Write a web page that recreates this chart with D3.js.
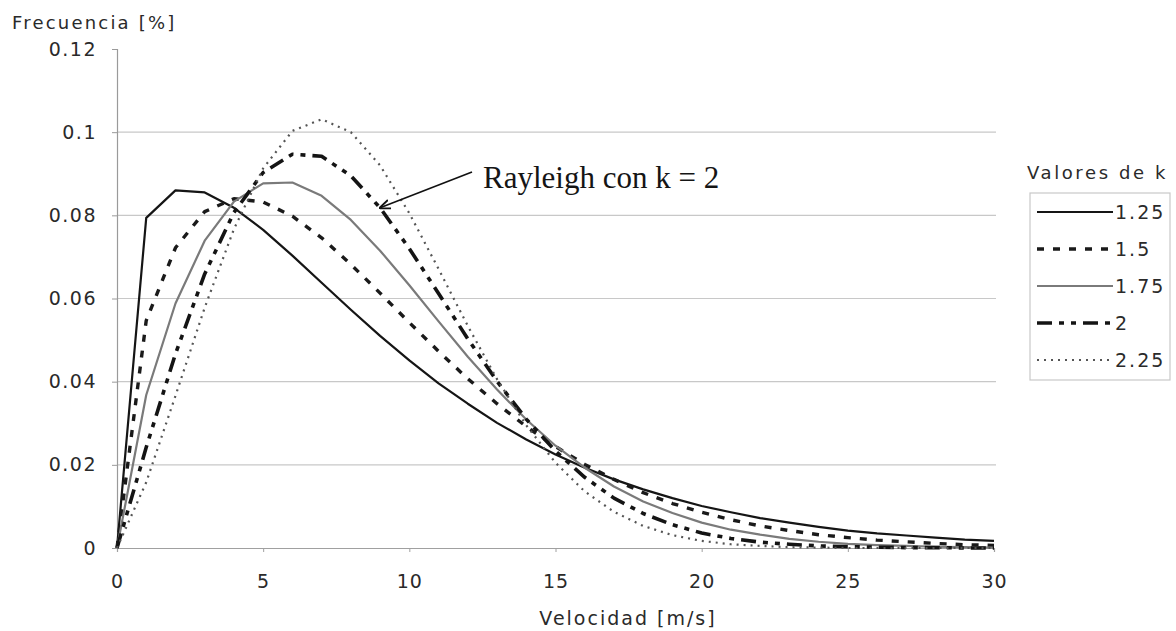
<!DOCTYPE html>
<html>
<head>
<meta charset="utf-8">
<script src="https://cdn.jsdelivr.net/npm/d3@7"></script>
<style>
  html, body { margin: 0; padding: 0; background: #fff; }
  svg { display: block; }
  .sans { font-family: "DejaVu Sans", Verdana, sans-serif; fill: #2a2a2a; }
</style>
</head>
<body>
<svg id="chart" width="1176" height="631"></svg>
<script>
// Velocity bins [m/s]
const velocity = d3.range(0, 31);

// Weibull frequency per shape factor k (mean speed 8 m/s)
const freqK125 = [0, 0.0794, 0.0860, 0.0855, 0.0818, 0.0765, 0.0703, 0.0638, 0.0573, 0.0510,
  0.0451, 0.0396, 0.0347, 0.0301, 0.0261, 0.0225, 0.0193, 0.0165, 0.0141, 0.0120,
  0.0101, 0.0086, 0.0072, 0.0061, 0.0051, 0.0042, 0.0035, 0.0030, 0.0025, 0.0020, 0.0017];
const freqK150 = [0, 0.0547, 0.0722, 0.0809, 0.0840, 0.0832, 0.0798, 0.0746, 0.0682, 0.0613,
  0.0542, 0.0473, 0.0407, 0.0347, 0.0292, 0.0244, 0.0201, 0.0165, 0.0133, 0.0107,
  0.0086, 0.0068, 0.0053, 0.0042, 0.0032, 0.0025, 0.0019, 0.0015, 0.0011, 0.0008, 0.0006];
const freqK175 = [0, 0.0368, 0.0588, 0.0739, 0.0833, 0.0877, 0.0879, 0.0847, 0.0789, 0.0715,
  0.0632, 0.0545, 0.0460, 0.0381, 0.0309, 0.0246, 0.0193, 0.0148, 0.0112, 0.0084,
  0.0061, 0.0044, 0.0032, 0.0022, 0.0015, 0.0010, 0.0007, 0.0005, 0.0003, 0.0002, 0.0001];
const freqK200 = [0, 0.0242, 0.0467, 0.0659, 0.0807, 0.0903, 0.0947, 0.0942, 0.0895, 0.0818,
  0.0720, 0.0612, 0.0503, 0.0401, 0.0310, 0.0233, 0.0170, 0.0120, 0.0083, 0.0056,
  0.0036, 0.0023, 0.0014, 0.0009, 0.0005, 0.0003, 0.0002, 0.0001, 0.0001, 0, 0];
const freqK225 = [0, 0.0158, 0.0366, 0.0578, 0.0767, 0.0913, 0.1003, 0.1031, 0.1000, 0.0920,
  0.0805, 0.0671, 0.0534, 0.0406, 0.0295, 0.0205, 0.0136, 0.0087, 0.0053, 0.0031,
  0.0017, 0.0009, 0.0005, 0.0002, 0.0001, 0, 0, 0, 0, 0, 0];

const kLabels = ["1.25", "1.5", "1.75", "2", "2.25"];
const yTicks = [0, 0.02, 0.04, 0.06, 0.08, 0.1, 0.12];
const yTickLabels = ["0", "0.02", "0.04", "0.06", "0.08", "0.1", "0.12"];
const xTicks = [0, 5, 10, 15, 20, 25, 30];

const yTitle = "Frecuencia [%]";
const xTitle = "Velocidad [m/s]";
const legendTitle = "Valores de k";
const noteText = "Rayleigh con k = 2";
const noteVelocity = 9;

const seriesValues = [freqK125, freqK150, freqK175, freqK200, freqK225];

// Stroke style for each k curve
const styles = [
  { stroke: "#151515", width: 2.2, dash: null },
  { stroke: "#1a1a1a", width: 3.4, dash: "7,9" },
  { stroke: "#7a7a7a", width: 2.2, dash: null },
  { stroke: "#141414", width: 3.6, dash: "15,7,5,7,5,7" },
  { stroke: "#555", width: 2.2, dash: "2,5" }
];

const svg = d3.select("#chart");
const x = d3.scaleLinear().domain([0, 30]).range([117, 994]);
const y = d3.scaleLinear().domain([0, 0.12]).range([548, 49]);

// Horizontal gridlines
svg.append("g")
  .selectAll("line")
  .data(yTicks.filter(t => t > 0 && t < 0.12))
  .join("line")
  .attr("x1", x(0)).attr("x2", x(30) + 2)
  .attr("y1", d => y(d)).attr("y2", d => y(d))
  .attr("stroke", "#c8c8c8").attr("stroke-width", 1.2);

// Y axis
const yAxis = d3.axisLeft(y).tickValues(yTicks)
  .tickFormat((d, i) => yTickLabels[i]).tickSize(5).tickPadding(15);
const gy = svg.append("g").attr("transform", `translate(${x(0)},0)`).call(yAxis);
gy.select(".domain").attr("stroke", "#9a9a9a").attr("stroke-width", 1.2);
gy.selectAll(".tick line").attr("stroke", "#9a9a9a");
gy.selectAll(".tick text")
  .attr("class", "sans").style("font-size", "19px").style("letter-spacing", "1.5px");

// X axis
const xAxis = d3.axisBottom(x).tickValues(xTicks).tickSize(4).tickPadding(23);
const gx = svg.append("g").attr("transform", `translate(0,${y(0)})`).call(xAxis);
gx.select(".domain").attr("stroke", "#a0a0a0").attr("stroke-width", 1.2);
gx.selectAll(".tick line").attr("stroke", "#a0a0a0");
gx.selectAll(".tick text")
  .attr("class", "sans").style("font-size", "19px").style("letter-spacing", "1px");

// Axis titles
svg.append("text").attr("class", "sans")
  .attr("x", 12).attr("y", 29)
  .style("font-size", "18px").style("letter-spacing", "2.2px")
  .text(yTitle);

svg.append("text").attr("class", "sans")
  .attr("x", 628).attr("y", 625).attr("text-anchor", "middle")
  .style("font-size", "19px").style("letter-spacing", "2px")
  .text(xTitle);

// Frequency curves
const line = d3.line()
  .x((d, i) => x(velocity[i]))
  .y(d => y(d));

svg.append("g")
  .selectAll("path")
  .data(seriesValues)
  .join("path")
  .attr("d", d => line(d))
  .attr("fill", "none")
  .attr("stroke", (d, i) => styles[i].stroke)
  .attr("stroke-width", (d, i) => styles[i].width)
  .attr("stroke-dasharray", (d, i) => styles[i].dash)
  .attr("stroke-linejoin", "round");

// Callout pointing at the Rayleigh curve
const tipX = x(noteVelocity), tipY = y(freqK200[noteVelocity]);
svg.append("defs").append("marker")
  .attr("id", "tip").attr("viewBox", "0 0 10 10")
  .attr("refX", 9).attr("refY", 5)
  .attr("markerWidth", 7).attr("markerHeight", 7)
  .attr("orient", "auto")
  .append("path").attr("d", "M0,1 L10,5 L0,9").attr("fill", "none")
  .attr("stroke", "#111").attr("stroke-width", 1.6);
svg.append("line")
  .attr("x1", 472).attr("y1", 172)
  .attr("x2", tipX).attr("y2", tipY)
  .attr("stroke", "#111").attr("stroke-width", 1.6)
  .attr("marker-end", "url(#tip)");
svg.append("text")
  .attr("x", 483).attr("y", 188)
  .style("font-family", "'Liberation Serif', 'Times New Roman', serif")
  .style("font-size", "31px").attr("fill", "#151515")
  .text(noteText);

// Legend
svg.append("text").attr("class", "sans")
  .attr("x", 1027).attr("y", 179)
  .style("font-size", "18px").style("letter-spacing", "2.6px")
  .text(legendTitle);

const legend = svg.append("g");
legend.append("rect")
  .attr("x", 1030).attr("y", 193).attr("width", 140).attr("height", 187)
  .attr("fill", "#fff").attr("stroke", "#c8c8c8").attr("stroke-width", 1.2);

const rowY = d3.scalePoint().domain(kLabels).range([212, 360]);
const rows = legend.selectAll("g.row").data(kLabels).join("g").attr("class", "row")
  .attr("transform", d => `translate(0,${rowY(d)})`);
rows.append("line")
  .attr("x1", 1037).attr("x2", 1113).attr("y1", 0).attr("y2", 0)
  .attr("stroke", (d, i) => styles[i].stroke)
  .attr("stroke-width", (d, i) => styles[i].width)
  .attr("stroke-dasharray", (d, i) => styles[i].dash);
rows.append("text").attr("class", "sans")
  .attr("x", 1115).attr("y", 0).attr("dy", "0.36em")
  .style("font-size", "19px").style("letter-spacing", "2px")
  .text(d => d);
</script>
</body>
</html>
